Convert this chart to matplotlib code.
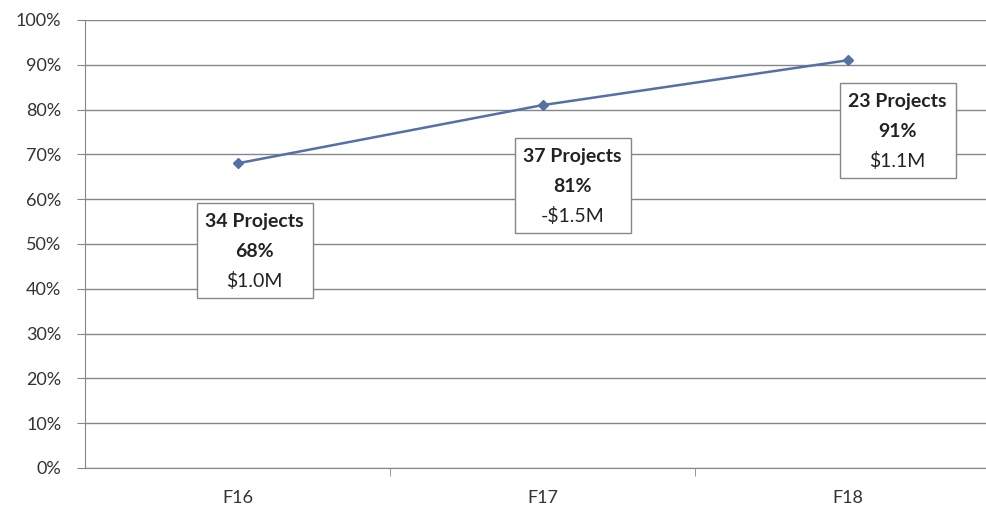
import numpy as np
import matplotlib.pyplot as plt
from matplotlib.patches import Rectangle
from matplotlib.transforms import ScaledTranslation

plt.rcParams['font.family'] = ['Lato', 'DejaVu Sans']

# datos
anios = ['F16', 'F17', 'F18']
porcentaje = [68, 81, 91]
proyectos = [34, 37, 23]
monto = ['$1.0M', '-$1.5M', '$1.1M']

# desplazamiento de cada cuadro respecto a su punto (pixeles)
desp_x = [17, 30, 50]
desp_y = [-40, -33, -23]

color_linea = '#5470A6'
color_gris = '#868686'

fig = plt.figure(figsize=(9.87, 5.12), dpi=100)
ax = fig.add_axes([85/987, 44/512, 915/987, 448/512])

x = np.arange(1, len(anios) + 1)
ax.plot(x, porcentaje, color=color_linea, linewidth=1.8, marker='D',
        markersize=5, zorder=3)

ax.set_xlim(0.5, 3.5)
ax.set_ylim(0, 100)
ax.set_yticks(np.arange(0, 101, 10))
ax.set_yticklabels([f'{v}%' for v in range(0, 101, 10)])
ax.set_xticks(x)
ax.set_xticklabels(anios)
ax.set_xticks([1.5, 2.5], minor=True)
ax.tick_params(axis='x', which='major', length=0, pad=16, labelsize=13,
               labelcolor='#333333')
ax.tick_params(axis='x', which='minor', length=6, direction='out',
               color=color_gris)
ax.tick_params(axis='y', length=6, color=color_gris, labelsize=13,
               labelcolor='#333333', pad=11)
ax.grid(axis='y', color=color_gris, linewidth=1)
ax.set_axisbelow(True)
for lado in ['top', 'right']:
    ax.spines[lado].set_visible(False)
ax.spines['left'].set_color(color_gris)
ax.spines['bottom'].set_color(color_gris)

# cuadros de texto
ancho, alto = 1.16, 0.95
for i in range(len(anios)):
    base = fig.dpi_scale_trans + ScaledTranslation(x[i], porcentaje[i], ax.transData)
    cx = desp_x[i] / 100
    top = desp_y[i] / 100
    ax.add_patch(Rectangle((cx - ancho / 2, top - alto), ancho, alto,
                           transform=base, facecolor='white',
                           edgecolor=color_gris, linewidth=1, zorder=4,
                           clip_on=False))
    lineas = [(f'{proyectos[i]} Projects', 'bold'),
              (f'{porcentaje[i]}%', 'bold'),
              (monto[i], 'normal')]
    for j, (txt, peso) in enumerate(lineas):
        ax.text(cx, top - 0.18 - 0.30 * j, txt, transform=base,
                ha='center', va='center', fontsize=14, fontweight=peso,
                color='#222222', zorder=5)

fig.savefig('out.png', dpi=100)
